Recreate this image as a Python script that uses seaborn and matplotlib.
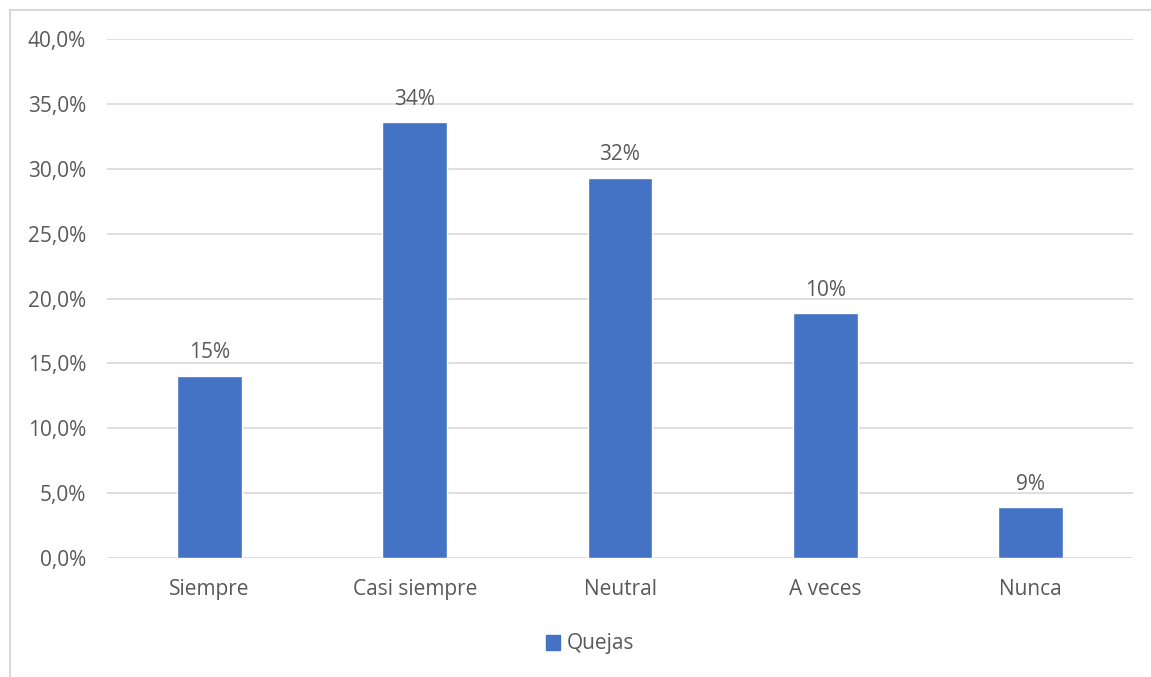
import matplotlib
matplotlib.use("Agg")
import matplotlib.pyplot as plt
import seaborn as sns
import pandas as pd
from matplotlib.lines import Line2D
from matplotlib.patches import Patch
from matplotlib.ticker import FuncFormatter

# Data
categories = ["Siempre", "Casi siempre", "Neutral", "A veces", "Nunca"]
values = [14.05, 33.6, 29.3, 18.85, 3.9]
bar_labels = ["15%", "34%", "32%", "10%", "9%"]
series_name = "Quejas"

df = pd.DataFrame({"categoria": categories, "valor": values})

sns.set_theme(style="white")
plt.rcParams["font.family"] = ["Open Sans", "DejaVu Sans"]

text_color = "#595959"
grid_color = "#d9d9d9"
bar_color = "#4472c4"
fs = 15

fig = plt.figure(figsize=(11.51, 6.77), dpi=100)
ax = fig.add_axes([107 / 1151, 1 - 558 / 677, (1133 - 107) / 1151, (558 - 39) / 677])

sns.barplot(data=df, x="categoria", y="valor", color=bar_color, width=0.315,
            saturation=1, ax=ax, zorder=3)

ax.set_ylim(0, 40)
ax.set_xlim(-0.5, len(categories) - 0.5)
ax.set_yticks(range(0, 41, 5))
ax.yaxis.set_major_formatter(FuncFormatter(lambda v, p: f"{v:.1f}".replace(".", ",") + "%"))
ax.grid(axis="y", color=grid_color, linewidth=1.2, zorder=0)
ax.set_axisbelow(True)
for s in ax.spines.values():
    s.set_visible(False)
ax.set_xlabel("")
ax.set_ylabel("")
ax.tick_params(axis="both", length=0, labelsize=fs, colors=text_color)
ax.tick_params(axis="x", pad=15)
ax.tick_params(axis="y", pad=15)

for i, (v, lab) in enumerate(zip(values, bar_labels)):
    ax.annotate(lab, (i, v), xytext=(0, 9), textcoords="offset points",
                ha="center", va="bottom", fontsize=fs, color=text_color)

# legend
handle = Patch(facecolor=bar_color, edgecolor=bar_color)
fig.legend([handle], [series_name], loc="center", bbox_to_anchor=(590 / 1151, 1 - 644 / 677),
           frameon=False, fontsize=fs, labelcolor=text_color, handlelength=0.7,
           handleheight=0.7, handletextpad=0.3)

# outer chart frame (left and top edges visible)
fig.add_artist(Line2D([10 / 1151, 10 / 1151], [0, 1 - 10 / 677], transform=fig.transFigure,
                      color=grid_color, linewidth=1.5))
fig.add_artist(Line2D([10 / 1151, 1], [1 - 10 / 677, 1 - 10 / 677], transform=fig.transFigure,
                      color=grid_color, linewidth=1.5))

fig.savefig("out.png", dpi=100)
